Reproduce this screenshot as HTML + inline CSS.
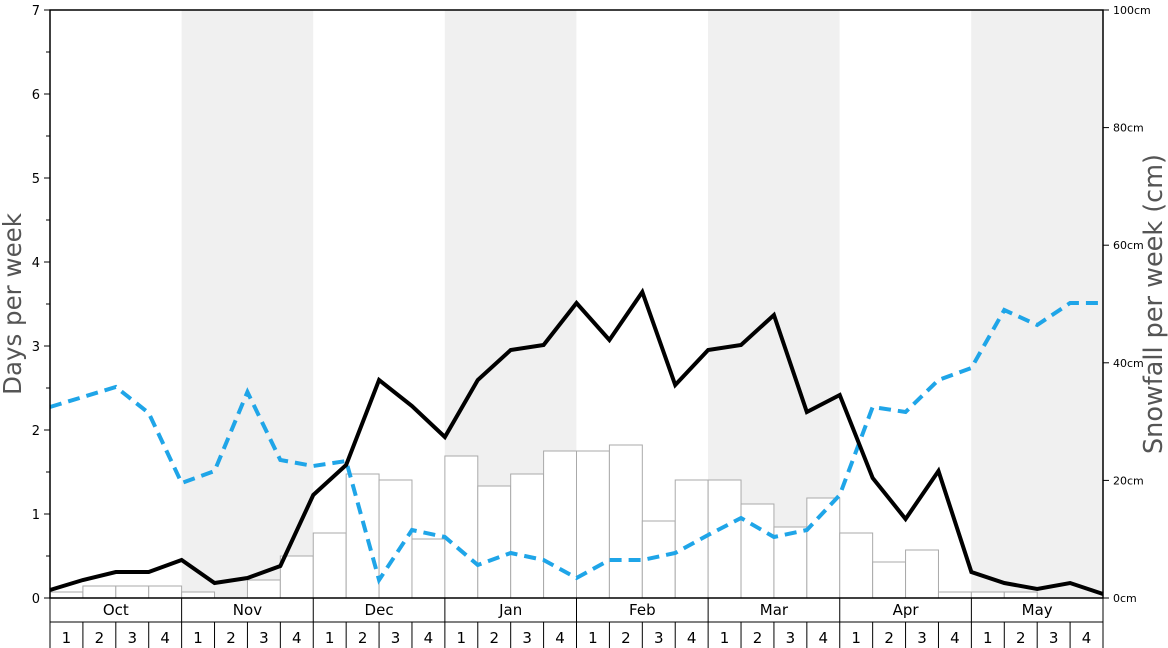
<!DOCTYPE html>
<html><head><meta charset="utf-8"><style>body{margin:0;background:#fff}svg{display:block;font-family:"DejaVu Sans","Liberation Sans",sans-serif}</style></head><body>
<svg width="1168" height="648" viewBox="0 0 1168 648" xmlns="http://www.w3.org/2000/svg">
<g fill="#f0f0f0">
<rect x="181.6" y="10" width="131.6" height="588"/>
<rect x="444.8" y="10" width="131.6" height="588"/>
<rect x="708" y="10" width="131.6" height="588"/>
<rect x="971.2" y="10" width="131.8" height="588"/>
</g>
<g id="bars" fill="#fff" stroke="#aaa" stroke-width="1"></g>
<polyline id="blue" fill="none" stroke="#1fa5e8" stroke-width="4" stroke-dasharray="12,7"/>
<polyline id="black" fill="none" stroke="#000" stroke-width="4" stroke-linejoin="miter"/>
<rect x="50" y="10" width="1053" height="588" fill="none" stroke="#000" stroke-width="1.5"/>
<g id="axes" stroke="#000" stroke-width="1"></g>
<g id="txt" font-size="13" fill="#000"></g>
<text x="21" y="304" font-size="24.5" fill="#555" text-anchor="middle" transform="rotate(-90 21 304)">Days per week</text>
<text x="1162" y="304" font-size="25.5" fill="#555" text-anchor="middle" transform="rotate(-90 1162 304)">Snowfall per week (cm)</text>
</svg>
<script>
const ns="http://www.w3.org/2000/svg",W=1053/32;
function el(p,t,a,txt){const e=document.createElementNS(ns,t);for(const k in a)e.setAttribute(k,a[k]);if(txt!=null)e.textContent=txt;document.getElementById(p).appendChild(e);}
const tops=[592,586,586,586,592,598,580,556,533,474,480,539,456,486,474,451,451,445,521,480,480,504,527,498,533,562,550,592,592,592,598,598];
tops.forEach((t,i)=>{if(t<598)el("bars","rect",{x:50+i*W,y:t,width:W,height:598-t});});
const bk=[590,580,572,572,560,583,578,566,495,465,380,406,437,380,350,345,303,340,292,385,350,345,315,412,395,478,519,471,572,583,589,583,594];
const bl=[407,397,387,413,483,471,392,460,466,461,580,530,537,565,553,560,578,560,560,553,535,518,537,530,495,407,412,380,368,310,325,303,303];
document.getElementById("black").setAttribute("points",bk.map((y,i)=>(50+i*W)+","+y).join(" "));
document.getElementById("blue").setAttribute("points",bl.map((y,i)=>(50+i*W)+","+y).join(" "));
for(let d=0;d<=7;d++){const y=598-d*84;el("axes","line",{x1:44,x2:50,y1:y,y2:y});el("txt","text",{x:40,y:y+5,"text-anchor":"end"},d);
 if(d<7){el("axes","line",{x1:46,x2:50,y1:y-42,y2:y-42});}}
for(let c=0;c<=100;c+=20){const y=598-c*5.88;el("axes","line",{x1:1103,x2:1109,y1:y,y2:y});el("txt","text",{x:1113,y:y+4,"font-size":"11"},c+"cm");}
el("axes","line",{x1:50,x2:50,y1:598,y2:648});el("axes","line",{x1:1103,x2:1103,y1:598,y2:648});
el("axes","line",{x1:50,x2:1103,y1:622,y2:622});
const m=["Oct","Nov","Dec","Jan","Feb","Mar","Apr","May"];
for(let i=0;i<32;i++){const x=50+i*W;el("axes","line",{x1:x,x2:x,y1:i%4==0?598:622,y2:648});
 el("txt","text",{x:x+W/2,y:643,"text-anchor":"middle","font-size":"15"},(i%4)+1);}
m.forEach((s,j)=>el("txt","text",{x:50+(j*4+2)*W,y:615,"text-anchor":"middle","font-size":"15"},s));
</script>
</body></html>
